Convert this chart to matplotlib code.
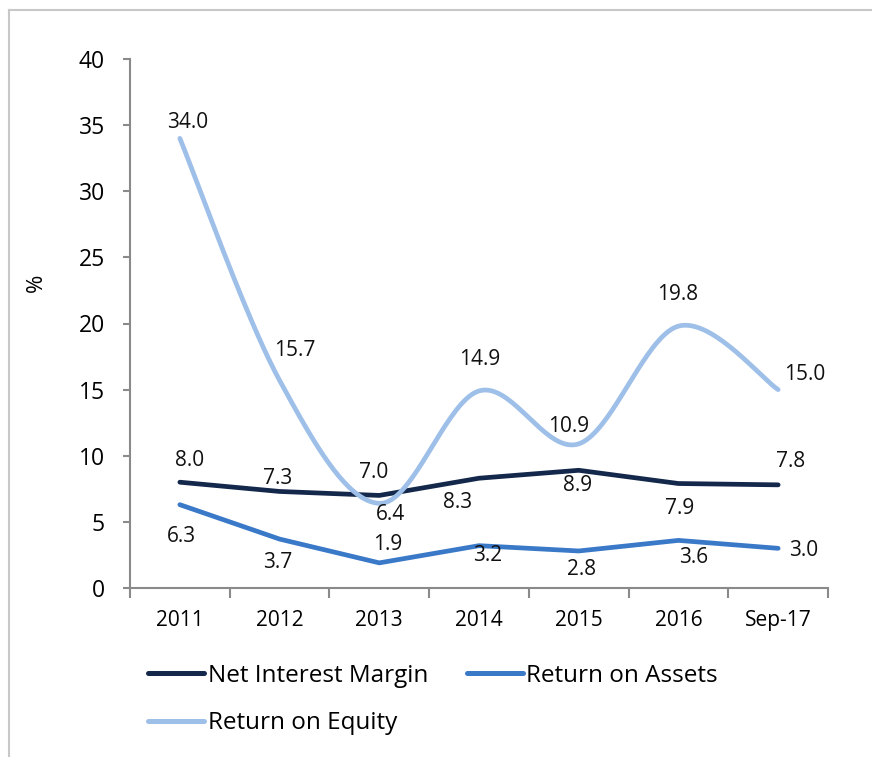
import numpy as np
import matplotlib.pyplot as plt
from matplotlib.lines import Line2D

plt.rcParams["font.family"] = ["Open Sans", "DejaVu Sans"]

categories = ["2011", "2012", "2013", "2014", "2015", "2016", "Sep-17"]
net_interest_margin = [8.0, 7.3, 7.0, 8.3, 8.9, 7.9, 7.8]
return_on_assets = [6.3, 3.7, 1.9, 3.2, 2.8, 3.6, 3.0]
return_on_equity = [34.0, 15.7, 6.4, 14.9, 10.9, 19.8, 15.0]

# label offsets (pixels) relative to each point
nim_offsets = [(10, 22), (-2, 13), (-6, 23), (-21, -24), (-1, -15), (1, -25), (12, 23)]
roa_offsets = [(2, -32), (-2, -23), (8, 18), (9, -10), (3, -19), (15, -17), (25, -2)]
roe_offsets = [(8, 16), (15, 30), (11, -11), (1, 31), (-10, 17), (-1, 32), (27, 15)]

C_NIM = "#13284a"
C_ROA = "#3a78c8"
C_ROE = "#9dbfe8"


def smooth(xs, ys, n=40):
    # Catmull-Rom style bezier through every point ("smoothed line")
    p = np.column_stack([xs, ys]).astype(float)
    ext = np.vstack([p[0], p, p[-1]])
    out = []
    t = np.linspace(0, 1, n)[:, None]
    for i in range(len(p) - 1):
        p0, p1, p2, p3 = ext[i], ext[i + 1], ext[i + 2], ext[i + 3]
        c1 = p1 + (p2 - p0) / 6.0
        c2 = p2 - (p3 - p1) / 6.0
        seg = ((1 - t) ** 3) * p1 + 3 * ((1 - t) ** 2) * t * c1 + 3 * (1 - t) * t ** 2 * c2 + t ** 3 * p2
        out.append(seg if i == 0 else seg[1:])
    out = np.vstack(out)
    return out[:, 0], out[:, 1]


fig = plt.figure(figsize=(8.72, 7.57), dpi=100)
ax = fig.add_axes([130 / 872, 1 - 588 / 757, 698 / 872, 529 / 757])

x = np.arange(len(categories))
series = [
    ("Net Interest Margin", net_interest_margin, C_NIM, nim_offsets, False),
    ("Return on Assets", return_on_assets, C_ROA, roa_offsets, False),
    ("Return on Equity", return_on_equity, C_ROE, roe_offsets, True),
]

for name, vals, col, offs, smoothed in series:
    if smoothed:
        sx, sy = smooth(x, vals)
    else:
        sx, sy = x, vals
    ax.plot(sx, sy, color=col, lw=3.4, solid_capstyle="round", solid_joinstyle="round", zorder=3)
    for xi, v, (dx, dy) in zip(x, vals, offs):
        ax.annotate(f"{v:.1f}", (xi, v), xytext=(dx, dy), textcoords="offset pixels",
                    ha="center", va="center", fontsize=15, color="#111111", zorder=4)

ax.set_xlim(-0.5, len(categories) - 0.5)
ax.set_ylim(0, 40)
ax.set_yticks(np.arange(0, 41, 5))

# tick marks at category boundaries, labels at centers
ax.set_xticks(np.arange(-0.5, len(categories), 1.0))
ax.set_xticklabels([])
ax.set_xticks(x, minor=True)
ax.set_xticklabels(categories, minor=True)
ax.tick_params(axis="x", which="major", direction="out", length=7, width=1.5, color="#8a8a8a")
ax.tick_params(axis="x", which="minor", length=0, pad=16, labelsize=15)
ax.tick_params(axis="y", direction="out", length=5, width=1.5, color="#8a8a8a", pad=13, labelsize=16.5)

for s in ["top", "right"]:
    ax.spines[s].set_visible(False)
for s in ["left", "bottom"]:
    ax.spines[s].set_color("#8a8a8a")
    ax.spines[s].set_linewidth(1.5)

ax.set_ylabel("%", fontsize=16)
ax.yaxis.set_label_coords(-0.119, 0.577)

handles = [Line2D([], [], color=c, lw=3.6, solid_capstyle="round") for _, _, c, _, _ in series]
labels = [s[0] for s in series]
order = [0, 2, 1]
fig.legend([handles[i] for i in order], [labels[i] for i in order], ncol=2,
           loc="upper left", bbox_to_anchor=(148 / 872, 1 - 664 / 757), frameon=False,
           fontsize=17.5, handlelength=2.3, handletextpad=0.15, columnspacing=1.6,
           labelspacing=0.95, borderpad=0, borderaxespad=0)

# light frame around the chart area
fig.add_artist(Line2D([8.5 / 872, 8.5 / 872], [0, 1 - 9.5 / 757], color="#c8c8c8", lw=1.5,
                      transform=fig.transFigure))
fig.add_artist(Line2D([8.5 / 872, 1], [1 - 9.5 / 757, 1 - 9.5 / 757], color="#c8c8c8", lw=1.5,
                      transform=fig.transFigure))

fig.savefig("out.png", dpi=100)
